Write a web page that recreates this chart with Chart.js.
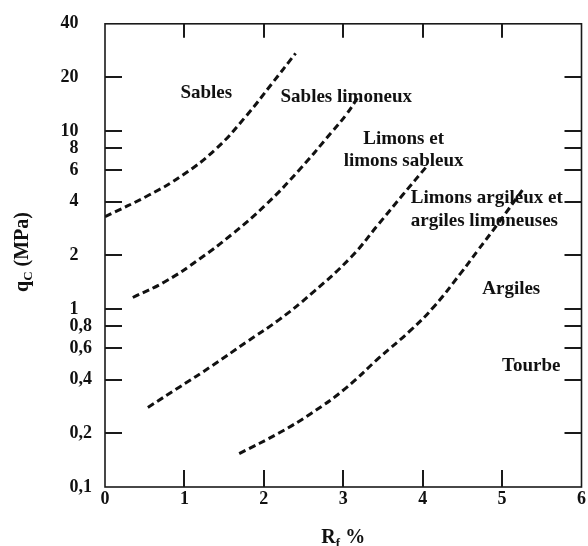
<!DOCTYPE html>
<html><head><meta charset="utf-8">
<script src="https://cdn.jsdelivr.net/npm/chart.js@4/dist/chart.umd.min.js"></script>
<style>html,body{margin:0;padding:0;background:#fff}</style>
</head><body>
<canvas id="c" width="588" height="546"></canvas>
<script>
// ---- data ----
const xTickValues = [0, 1, 2, 3, 4, 5, 6];
const xTickLabels = ['0', '1', '2', '3', '4', '5', '6'];
const yTickValues = [0.1, 0.2, 0.4, 0.6, 0.8, 1, 2, 4, 6, 8, 10, 20, 40];
const yTickLabels = ['0,1', '0,2', '0,4', '0,6', '0,8', '1', '2', '4', '6', '8', '10', '20', '40'];

// boundary Sables / Sables limoneux
const curve1X = [0.00, 0.56, 0.975, 1.40, 1.775, 2.10, 2.40];
const curve1Y = [3.30, 4.38, 5.64, 7.95, 12.1, 18.4, 27.3];
// boundary Sables limoneux / Limons
const curve2X = [0.35, 0.775, 1.19, 1.60, 2.025, 2.44, 2.85, 3.04, 3.19];
const curve2Y = [1.16, 1.44, 1.91, 2.63, 3.85, 6.0, 9.8, 12.4, 15.6];
// boundary Limons / Limons argileux
const curve3X = [0.54, 0.94, 1.35, 1.775, 2.19, 2.60, 3.10, 3.44, 3.75, 4.06];
const curve3Y = [0.280, 0.365, 0.480, 0.649, 0.869, 1.22, 1.96, 2.98, 4.38, 6.40];
// boundary Limons argileux / Argiles
const curve4X = [1.69, 2.19, 2.60, 3.025, 3.46, 3.85, 4.15, 4.475, 4.69, 4.94, 5.275];
const curve4Y = [0.154, 0.201, 0.260, 0.357, 0.536, 0.76, 1.04, 1.58, 2.12, 2.98, 4.78];

const regionNames = ['Sables', 'Sables limoneux', 'Limons et', 'limons sableux',
  'Limons argileux et', 'argiles limoneuses', 'Argiles', 'Tourbe'];
const regionAtX = [0.95, 2.21, 3.76, 3.76, 3.85, 3.85, 4.75, 5.00];
const regionAtY = [16.4, 15.4, 9.03, 6.74, 4.21, 3.10, 1.29, 0.478];
const regionAlign = ['left', 'left', 'center', 'center', 'left', 'left', 'left', 'left'];

const yTitle = ['q', 'C', ' (MPa)'];
const xTitle = ['R', 'f', ' %'];

// ---- chart ----
const FONT = '"Liberation Serif", "Times New Roman", serif';
function pts(xs, ys) { return xs.map((x, i) => ({ x: x, y: ys[i] })); }
function ds(xs, ys) {
  return {
    data: pts(xs, ys), borderColor: '#111', borderWidth: 3, borderDash: [7, 4],
    pointRadius: 0, fill: false, tension: 0.45
  };
}

function drawTitle(ctx, parts, big, small) {
  ctx.font = 'bold ' + big + 'px ' + FONT;
  const w0 = ctx.measureText(parts[0]).width;
  const w2 = ctx.measureText(parts[2]).width;
  ctx.font = 'bold ' + small + 'px ' + FONT;
  const w1 = ctx.measureText(parts[1]).width;
  let x = -(w0 + w1 + w2) / 2;
  ctx.textAlign = 'left';
  ctx.textBaseline = 'alphabetic';
  ctx.font = 'bold ' + big + 'px ' + FONT;
  ctx.fillText(parts[0], x, 0); x += w0;
  ctx.font = 'bold ' + small + 'px ' + FONT;
  ctx.fillText(parts[1], x, 4); x += w1;
  ctx.font = 'bold ' + big + 'px ' + FONT;
  ctx.fillText(parts[2], x, 0);
}

const decor = {
  id: 'decor',
  afterDraw(chart) {
    const ctx = chart.ctx;
    const a = chart.chartArea;
    const xs = chart.scales.x, ys = chart.scales.y;
    ctx.save();
    ctx.strokeStyle = '#1a1a1a';
    ctx.lineWidth = 1.6;
    ctx.strokeRect(a.left, a.top, a.right - a.left, a.bottom - a.top);
    ctx.lineWidth = 2;
    ctx.beginPath();
    yTickValues.forEach(v => {
      if (v <= 0.1 || v >= 40) return;
      const p = Math.round(ys.getPixelForValue(v));
      ctx.moveTo(a.left, p); ctx.lineTo(a.left + 17, p);
      ctx.moveTo(a.right - 17, p); ctx.lineTo(a.right, p);
    });
    xTickValues.forEach(v => {
      if (v <= 0 || v >= 6) return;
      const p = Math.round(xs.getPixelForValue(v));
      ctx.moveTo(p, a.bottom); ctx.lineTo(p, a.bottom - 17);
      ctx.moveTo(p, a.top); ctx.lineTo(p, a.top + 14);
    });
    ctx.stroke();

    // region labels
    ctx.fillStyle = '#111';
    ctx.font = 'bold 19px ' + FONT;
    ctx.textBaseline = 'middle';
    regionNames.forEach((t, i) => {
      ctx.textAlign = regionAlign[i];
      ctx.fillText(t, xs.getPixelForValue(regionAtX[i]), ys.getPixelForValue(regionAtY[i]));
    });

    // axis titles
    ctx.save();
    ctx.translate(28, 252);
    ctx.rotate(-Math.PI / 2);
    drawTitle(ctx, yTitle, 20, 13);
    ctx.restore();
    ctx.save();
    ctx.translate((a.left + a.right) / 2, 543);
    drawTitle(ctx, xTitle, 20, 13);
    ctx.restore();
    ctx.restore();
  }
};

new Chart(document.getElementById('c'), {
  type: 'line',
  data: { datasets: [ds(curve1X, curve1Y), ds(curve2X, curve2Y), ds(curve3X, curve3Y), ds(curve4X, curve4Y)] },
  options: {
    responsive: false, animation: false, devicePixelRatio: 1,
    layout: { padding: { top: 16, right: 3, left: 0, bottom: 0 } },
    plugins: { legend: { display: false }, tooltip: { enabled: false } },
    scales: {
      x: {
        type: 'linear', min: 0, max: 6,
        afterFit: s => { s.height = 59; },
        afterBuildTicks: s => { s.ticks = xTickValues.map(v => ({ value: v })); },
        grid: { display: false, drawTicks: false },
        border: { display: false },
        ticks: {
          autoSkip: false, maxRotation: 0, padding: 2, color: '#111',
          font: { family: FONT, size: 18, weight: 'bold' },
          callback: v => xTickLabels[xTickValues.indexOf(v)]
        }
      },
      y: {
        type: 'logarithmic', min: 0.1, max: 40,
        afterFit: s => { s.width = 105; },
        afterBuildTicks: s => { s.ticks = yTickValues.map(v => ({ value: v })); },
        grid: { display: false, drawTicks: false },
        border: { display: false },
        ticks: {
          autoSkip: false, padding: 13, color: '#111',
          font: { family: FONT, size: 18, weight: 'bold' },
          callback: v => {
            const i = yTickValues.findIndex(t => Math.abs(t - v) < 1e-9);
            const lab = yTickLabels[i];
            return lab.indexOf(',') >= 0 ? lab : lab + '   ';
          }
        }
      }
    }
  },
  plugins: [decor]
});
</script>
</body></html>
